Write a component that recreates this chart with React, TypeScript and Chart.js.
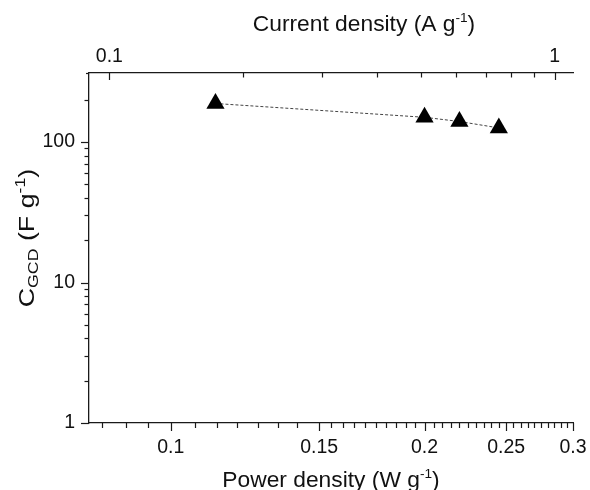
import { useEffect, useRef } from "react";
import { Chart, registerables } from "chart.js";

Chart.register(...registerables);

// ---- data ----
const powerDensity = [0.113, 0.2, 0.22, 0.245];
const capacitance = [188, 150, 140, 126];

// ---- axes ----
const powerRange = [0.08, 0.3];
const currentRange = [0.09, 1.1];
const capRange = [1, 310];

const powerTicks = [0.1, 0.15, 0.2, 0.25, 0.3];
const powerMinorTicks = [
  0.083, 0.0885, 0.094, 0.107, 0.1135, 0.12, 0.127, 0.134, 0.141,
  0.155, 0.16, 0.165, 0.17, 0.175, 0.18, 0.185, 0.19, 0.195,
  0.205, 0.21, 0.215, 0.22, 0.225, 0.23, 0.235, 0.24, 0.245,
  0.255, 0.26, 0.265, 0.27, 0.275, 0.28, 0.285, 0.29, 0.295,
];
const currentTicks = [0.1, 1];
const currentMinorTicks = [0.2, 0.3, 0.4, 0.5, 0.6, 0.7, 0.8, 0.9];
const capTicks = [1, 10, 100];
const capMinorTicks = [2, 3, 4, 5, 6, 7, 8, 9, 20, 30, 40, 50, 60, 70, 80, 90, 200];

const FAMILY = '"Liberation Sans", Arial, Helvetica, sans-serif';

type Seg = { t: string; k?: "sub" | "sup" };

const topTitle: Seg[] = [{ t: "Current density (A g" }, { t: "-1", k: "sup" }, { t: ")" }];
const bottomTitle: Seg[] = [{ t: "Power density (W g" }, { t: "-1", k: "sup" }, { t: ")" }];
const leftTitle: Seg[] = [
  { t: "C" },
  { t: "GCD", k: "sub" },
  { t: " (F g" },
  { t: "-1", k: "sup" },
  { t: ")" },
];

function drawRich(
  ctx: CanvasRenderingContext2D,
  segs: Seg[],
  cx: number,
  cy: number,
  size: number,
  rotate: boolean,
  stretch: number,
  smallRatio: number
) {
  const small = size * smallRatio;
  ctx.save();
  ctx.textBaseline = "alphabetic";
  ctx.textAlign = "left";
  ctx.fillStyle = "#111";
  const widths = segs.map((s) => {
    ctx.font = `${s.k ? small : size}px ${FAMILY}`;
    return ctx.measureText(s.t).width;
  });
  const total = widths.reduce((a, b) => a + b, 0);
  ctx.translate(cx, cy);
  if (rotate) ctx.rotate(-Math.PI / 2);
  ctx.scale(stretch, 1);
  let xx = -total / 2;
  segs.forEach((s, i) => {
    ctx.font = `${s.k ? small : size}px ${FAMILY}`;
    const dy = s.k === "sub" ? size * 0.2 : s.k === "sup" ? -size * 0.4 : 0;
    ctx.fillText(s.t, xx, dy);
    xx += widths[i];
  });
  ctx.restore();
}

const axisDecor = {
  id: "axisDecor",
  afterDraw(chart: any) {
    const ctx: CanvasRenderingContext2D = chart.ctx;
    const a = chart.chartArea;
    const sx = chart.scales.x;
    const sx2 = chart.scales.x2;
    const sy = chart.scales.y;
    ctx.save();
    ctx.strokeStyle = "#1a1a1a";
    ctx.lineWidth = 1.2;
    const seg = (x1: number, y1: number, x2: number, y2: number) => {
      ctx.beginPath();
      ctx.moveTo(x1, y1);
      ctx.lineTo(x2, y2);
      ctx.stroke();
    };
    powerTicks.forEach((v) => {
      const p = Math.round(sx.getPixelForValue(v)) + 0.5;
      seg(p, a.bottom, p, a.bottom + 8);
    });
    powerMinorTicks.forEach((v) => {
      const p = Math.round(sx.getPixelForValue(v)) + 0.5;
      seg(p, a.bottom, p, a.bottom + 5);
    });
    currentTicks.forEach((v) => {
      const p = Math.round(sx2.getPixelForValue(v)) + 0.5;
      seg(p, a.top, p, a.top + 7);
    });
    currentMinorTicks.forEach((v) => {
      const p = Math.round(sx2.getPixelForValue(v)) + 0.5;
      seg(p, a.top, p, a.top + 4.5);
    });
    capTicks.forEach((v) => {
      const p = Math.round(sy.getPixelForValue(v)) + 0.5;
      seg(a.left - 8, p, a.left, p);
    });
    capMinorTicks.forEach((v) => {
      const p = Math.round(sy.getPixelForValue(v)) + 0.5;
      seg(a.left - 4.5, p, a.left, p);
    });
    seg(a.left - 3, a.top + 0.5, a.left, a.top + 0.5);
    ctx.restore();

    drawRich(ctx, topTitle, 364, 31, 21.5, false, 1.06, 0.6);
    drawRich(ctx, bottomTitle, 331, 486.5, 21.5, false, 1.06, 0.6);
    drawRich(ctx, leftTitle, 34, 238, 22, true, 1.22, 0.66);
  },
};

export default function App() {
  const ref = useRef<HTMLCanvasElement | null>(null);

  useEffect(() => {
    if (!ref.current) return;
    const tickFont = { family: FAMILY, size: 19.5 };
    const border = { display: true, color: "#1a1a1a", width: 1.3 };
    const chart = new Chart(ref.current, {
      type: "scatter",
      data: {
        datasets: [
          {
            data: powerDensity.map((p, i) => ({ x: p, y: capacitance[i] })),
            xAxisID: "x",
            yAxisID: "y",
            showLine: true,
            borderColor: "#444",
            borderWidth: 1,
            borderDash: [3, 2],
            pointStyle: "triangle",
            pointRadius: 10.5,
            pointHoverRadius: 10.5,
            pointBackgroundColor: "#000",
            pointBorderColor: "#000",
            pointBorderWidth: 0,
          },
        ],
      },
      options: {
        responsive: false,
        animation: false,
        devicePixelRatio: 1,
        layout: { autoPadding: false, padding: { left: 0, right: 17, top: 0, bottom: 0 } },
        plugins: { legend: { display: false }, tooltip: { enabled: false } },
        scales: {
          x: {
            type: "logarithmic",
            position: "bottom",
            min: powerRange[0],
            max: powerRange[1],
            grid: { display: false, drawTicks: true, tickLength: 12.5 },
            border,
            ticks: {
              autoSkip: false,
              maxRotation: 0,
              padding: 0,
              font: tickFont,
              color: "#111",
              callback: (v: any) => String(v),
            },
            afterBuildTicks: (s: any) => {
              s.ticks = powerTicks.map((v) => ({ value: v }));
            },
            afterFit: (s: any) => {
              s.height = 67;
            },
          },
          x2: {
            type: "logarithmic",
            position: "top",
            min: currentRange[0],
            max: currentRange[1],
            grid: { display: false, drawTicks: true, tickLength: 5 },
            border,
            ticks: {
              autoSkip: false,
              maxRotation: 0,
              padding: 0,
              font: tickFont,
              color: "#111",
              callback: (v: any) => String(v),
            },
            afterBuildTicks: (s: any) => {
              s.ticks = currentTicks.map((v) => ({ value: v }));
            },
            afterFit: (s: any) => {
              s.height = 73;
            },
          },
          y: {
            type: "logarithmic",
            position: "left",
            min: capRange[0],
            max: capRange[1],
            grid: { display: false, drawTicks: false },
            border,
            ticks: {
              autoSkip: false,
              padding: 14,
              font: tickFont,
              color: "#111",
              callback: (v: any) => String(v),
            },
            afterBuildTicks: (s: any) => {
              s.ticks = capTicks.map((v) => ({ value: v }));
            },
            afterFit: (s: any) => {
              s.width = 89;
            },
          },
        },
      } as any,
      plugins: [axisDecor],
    });
    return () => chart.destroy();
  }, []);

  return (
    <div style={{ position: "fixed", left: 0, top: 0, width: 590, height: 490, background: "#fff" }}>
      <canvas ref={ref} width={590} height={490} style={{ display: "block" }} />
    </div>
  );
}
